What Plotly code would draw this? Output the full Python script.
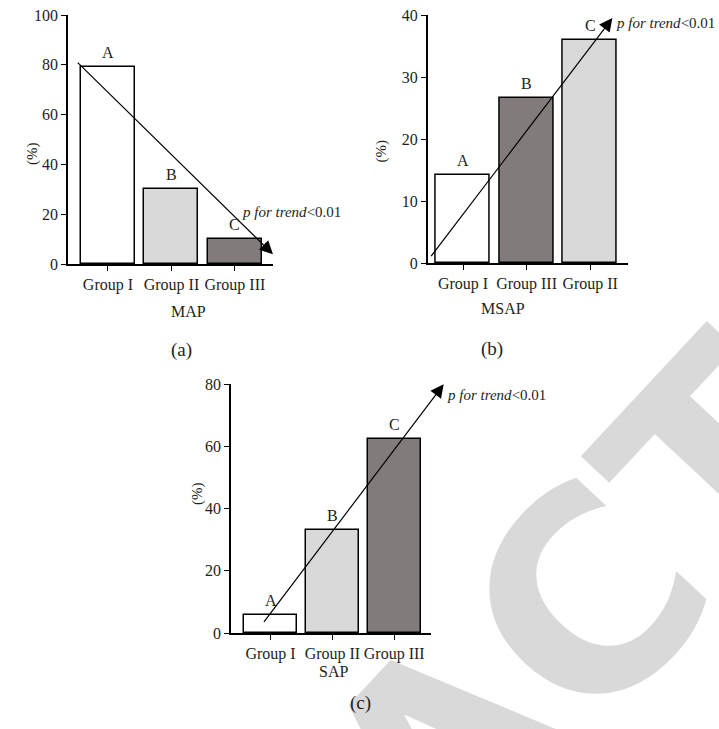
import plotly.graph_objects as go

W, H = 719, 729

# ---- data ----
map_groups = ["Group I", "Group II", "Group III"]
map_values = [79.0, 30.1, 10.3]
map_letters = ["A", "B", "C"]

msap_groups = ["Group I", "Group III", "Group II"]
msap_values = [14.2, 26.7, 36.0]
msap_letters = ["A", "B", "C"]

sap_groups = ["Group I", "Group II", "Group III"]
sap_values = [5.9, 33.0, 62.2]
sap_letters = ["A", "B", "C"]

WHITE, LIGHT, DARK = "#ffffff", "#d9d9d9", "#817c7b"
map_colors = [WHITE, LIGHT, DARK]
msap_colors = [WHITE, DARK, LIGHT]
sap_colors = [WHITE, LIGHT, DARK]

FONT = "Liberation Serif"
TXT = "#231f20"

def px_y(py):
    return 1 - py / H

def px_x(px):
    return px / W

panels = [
    dict(groups=map_groups, values=map_values, letters=map_letters, colors=map_colors,
         xd=[68, 273], yd=[15, 264.3], xr=[-0.63, 2.6], yr=[0, 100], dt=20,
         arrow=((-0.5, 81.5), (2.6, 4.0)), ptxt=(240, 212),
         title="MAP", title_xy=(169, 311), lab="(a)", lab_xy=(169, 350),
         ytitle_xy=(22, 140)),
    dict(groups=msap_groups, values=msap_values, letters=msap_letters, colors=msap_colors,
         xd=[427.7, 628.3], yd=[15, 263.3], xr=[-0.556, 2.6], yr=[0, 40], dt=10,
         arrow=((-0.52, 0.9), (2.35, 39.5)), ptxt=(614, 23),
         title="MSAP", title_xy=(527, 309), lab="(b)", lab_xy=(505, 349),
         ytitle_xy=(381, 138)),
    dict(groups=sap_groups, values=sap_values, letters=sap_letters, colors=sap_colors,
         xd=[231, 430.7], yd=[384, 633], xr=[-0.64, 2.59], yr=[0, 80], dt=20,
         arrow=((-0.125, 3.1), (2.8, 79.9)), ptxt=(445, 395),
         title="SAP", title_xy=(333, 682), lab="(c)", lab_xy=(360, 716),
         ytitle_xy=(187, 507)),
]

fig = go.Figure()
annotations = []

# watermark first so everything else sits above it
annotations.append(dict(
    text="<b>RETRACTED</b>", xref="paper", yref="paper", x=0.6244, y=-0.0310,
    xanchor="center", yanchor="middle", textangle=-47, showarrow=False,
    font=dict(family="DejaVu Sans", size=275, color="#d9d9d9")))

layout_axes = {}
for i, p in enumerate(panels, start=1):
    xa = "x" if i == 1 else f"x{i}"
    ya = "y" if i == 1 else f"y{i}"
    xs = list(range(len(p["groups"])))
    fig.add_trace(go.Bar(
        x=xs, y=p["values"], width=0.85, xaxis=xa, yaxis=ya,
        marker=dict(color=p["colors"], line=dict(color="#000000", width=1.5)),
        showlegend=False, hoverinfo="skip"))
    ax_common = dict(showgrid=False, zeroline=False, showline=True, linecolor="#000000",
                     linewidth=1.5, ticks="outside", ticklen=5, tickwidth=1.2,
                     tickcolor="#000000", automargin=False,
                     tickfont=dict(family=FONT, size=16, color=TXT))
    xkey = "xaxis" if i == 1 else f"xaxis{i}"
    ykey = "yaxis" if i == 1 else f"yaxis{i}"
    layout_axes[xkey] = dict(ax_common, domain=[px_x(p["xd"][0]), px_x(p["xd"][1])],
                             range=p["xr"], tickvals=xs, ticktext=p["groups"],
                             anchor=ya, fixedrange=True)
    layout_axes[ykey] = dict(ax_common, domain=[px_y(p["yd"][1]), px_y(p["yd"][0])],
                             range=p["yr"], dtick=p["dt"], anchor=xa, fixedrange=True)
    for xv, v, L in zip(xs, p["values"], p["letters"]):
        annotations.append(dict(text=L, x=xv, y=v, xref=xa, yref=ya, showarrow=False,
                                yanchor="bottom", yshift=4,
                                font=dict(family=FONT, size=16, color=TXT)))
    (x0, y0), (x1, y1) = p["arrow"]
    annotations.append(dict(text="", x=x1, y=y1, ax=x0, ay=y0, xref=xa, yref=ya,
                            axref=xa, ayref=ya, showarrow=True, arrowhead=2,
                            arrowsize=2.2, arrowwidth=1.2, arrowcolor="#000000"))
    annotations.append(dict(text="<i>p for trend</i>&lt;0.01",
                            x=px_x(p["ptxt"][0]), y=px_y(p["ptxt"][1]),
                            xref="paper", yref="paper", showarrow=False, xanchor="left",
                            yanchor="middle", font=dict(family=FONT, size=15, color=TXT)))
    annotations.append(dict(text="(%)", x=px_x(p["ytitle_xy"][0]), y=px_y(p["ytitle_xy"][1]),
                            xref="paper", yref="paper", showarrow=False, textangle=-90,
                            font=dict(family=FONT, size=15, color=TXT)))
    annotations.append(dict(text=p["title"], x=px_x(p["title_xy"][0]), y=px_y(p["title_xy"][1]),
                            xref="paper", yref="paper", showarrow=False,
                            font=dict(family=FONT, size=16, color=TXT)))
    annotations.append(dict(text=p["lab"], x=px_x(p["lab_xy"][0]), y=px_y(p["lab_xy"][1]),
                            xref="paper", yref="paper", showarrow=False,
                            font=dict(family=FONT, size=19, color=TXT)))

fig.update_layout(
    width=W, height=H, autosize=False,
    margin=dict(l=0, r=0, t=0, b=0, pad=0, autoexpand=False),
    paper_bgcolor="#ffffff", plot_bgcolor="rgba(0,0,0,0)",
    annotations=annotations, bargap=0, **layout_axes)

fig.write_html("out.html", config={"displayModeBar": False},
               post_script="document.body.style.margin='0';document.body.style.overflow='hidden';")
